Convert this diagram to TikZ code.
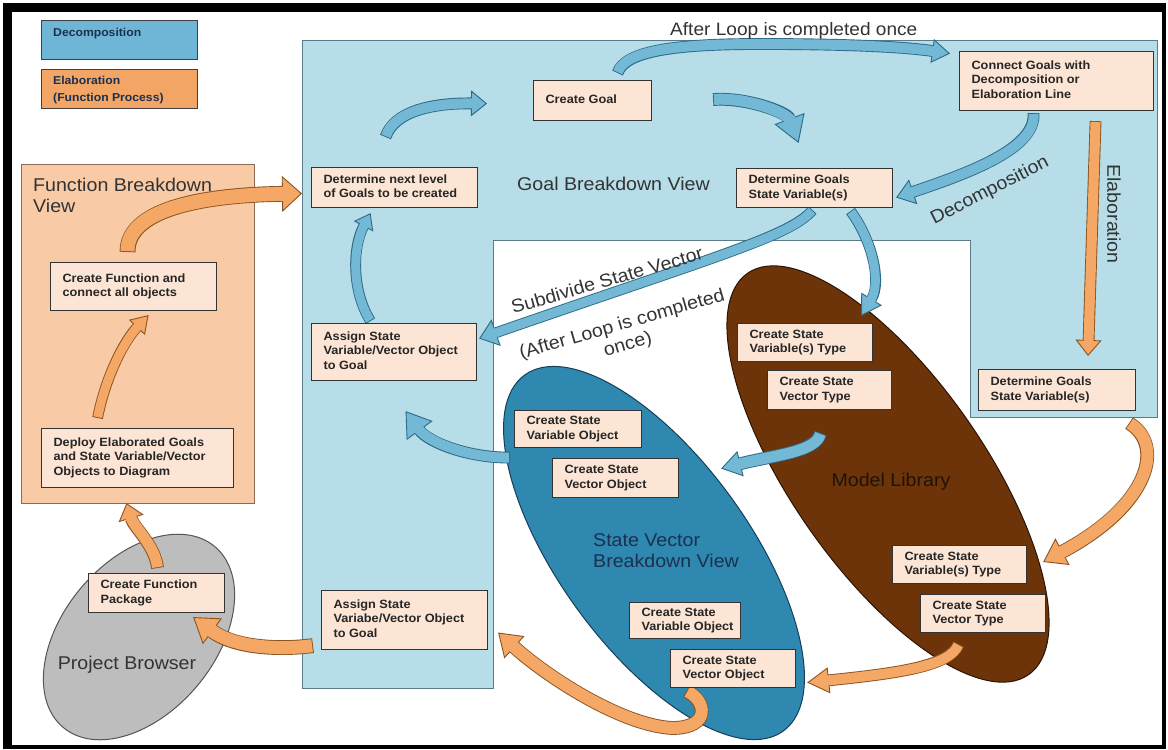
\documentclass[tikz,border=0pt]{standalone}
\usepackage{fontspec}
\setmainfont{Liberation Sans}[FakeStretch=1.06]
\usetikzlibrary{arrows.meta,shapes.geometric}
\definecolor{regblue}{HTML}{B7DDE8}
\definecolor{regedge}{HTML}{5A7C8A}
\definecolor{bfill}{HTML}{73B9D6}
\definecolor{bedge}{HTML}{2C6A86}
\definecolor{ofill}{HTML}{F5A766}
\definecolor{oedge}{HTML}{8A5420}
\definecolor{panelc}{HTML}{F9CAA6}
\definecolor{paneledge}{HTML}{8C6A55}
\definecolor{boxfill}{HTML}{FCE5D5}
\definecolor{boxedge}{HTML}{333333}
\definecolor{svblue}{HTML}{2E88B0}
\definecolor{svedge}{HTML}{173E58}
\definecolor{brownc}{HTML}{6E3409}
\definecolor{brownedge}{HTML}{2A1303}
\definecolor{grayc}{HTML}{BDBDBD}
\definecolor{grayedge}{HTML}{555555}
\definecolor{legblue}{HTML}{6FB6D6}
\definecolor{legorange}{HTML}{F2A564}
\definecolor{labgray}{HTML}{333333}
\definecolor{navy}{HTML}{1C3050}
\pgfdeclarelayer{bg}
\pgfdeclarelayer{arr}
\pgfsetlayers{bg,arr,main}
\tikzset{
  box/.style={draw=boxedge, line width=1.1pt, fill=boxfill, inner xsep=12pt, inner ysep=2pt,
    font=\fontsize{12}{14.5}\selectfont\bfseries, text=black!85, anchor=north west},
  biglab/.style={font=\fontsize{18.5}{21}\selectfont, text=labgray, inner sep=0pt},
  legbox/.style={draw=black!75, line width=1pt, minimum width=156pt, minimum height=39pt, anchor=north west, inner sep=0pt},
  legtxt/.style={font=\fontsize{11.5}{16.5}\selectfont\bfseries, text=navy, inner sep=0pt, anchor=north west, align=left}
}
\newcommand\bx[6]{\node[box, minimum height=#5pt] (#1) at (#2,#3)
  {\makebox[\dimexpr#4pt-24pt\relax][l]{\begin{tabular}{@{}l@{}}#6\end{tabular}}};}
\newcommand\barr[6]{%
  \pgfmathsetmacro\bwo{#3+1.8}\pgfmathsetmacro\bsh{#4-2}%
  \draw[#2, line width=\bwo pt, -{Triangle[length=#4pt, width=#5pt, fill=#1, color=#2, line width=0.9pt]}] #6;
  \draw[#1, line width=#3pt, shorten >=\bsh pt, shorten <=0.9pt] #6;}
\begin{document}
\begin{tikzpicture}[x=1pt,y=-1pt]
\useasboundingbox (0,0) rectangle (1168,750);
\begin{pgfonlayer}{bg}
  \fill[black] (3,3) rectangle (1166,749);
  \fill[white] (12,12) rectangle (1162,745);
  % goal breakdown region
  \draw[regedge, line width=1pt, fill=regblue] (302,40) -- (1157,40) -- (1157,417) -- (970,417)
     -- (970,240) -- (493,240) -- (493,688) -- (302,688) -- cycle;
  % function breakdown panel
  \draw[paneledge, line width=0.8pt, fill=panelc] (21,164) rectangle (254,503);
\end{pgfonlayer}
% ellipses
\begin{pgfonlayer}{bg}
  \node[ellipse, draw=grayedge, line width=1pt, fill=grayc, minimum width=236pt, minimum height=152pt, inner sep=0pt, rotate=50] (pb) at (139,637) {};
  \node[ellipse, draw=svedge, line width=1pt, fill=svblue, minimum width=440pt, minimum height=190pt, inner sep=0pt, rotate=-54] (svbv) at (654,553) {};
  \node[ellipse, draw=brownedge, line width=1pt, fill=brownc, minimum width=490pt, minimum height=192pt, inner sep=0pt, rotate=-55] (ml) at (888,474) {};
\end{pgfonlayer}
% legend
\node[legbox, fill=legblue] (legdec) at (41,20) {};
\node[legtxt] (legdect) at (53,28) {Decomposition};
\node[legbox, fill=legorange] (legela) at (41,69) {};
\node[legtxt] (legelat) at (53,76) {Elaboration\\(Function Process)};
% boxes
\bx{goal}{533}{80}{118}{40}{Create Goal}
\bx{next}{311}{167}{166}{40}{Determine next level\\of Goals to be created}
\bx{connect}{959}{51}{194}{59}{Connect Goals with\\Decomposition or\\Elaboration Line}
\bx{dgsv1}{736}{168}{156}{39}{Determine Goals\\State Variable(s)}
\bx{dgsv2}{978}{369}{157}{41}{Determine Goals\\State Variable(s)}
\bx{csvt1}{737}{323}{135}{38}{Create State\\Variable(s) Type}
\bx{csvect1}{767}{370}{124}{39}{Create State\\Vector Type}
\bx{cfunc}{50}{262}{166}{48}{Create Function and\\connect all objects}
\bx{deploy}{41}{428}{192}{59}{Deploy Elaborated Goals\\and State Variable/Vector\\Objects to Diagram}
\bx{assign1}{311}{323}{165}{57}{Assign State\\Variable/Vector Object\\to Goal}
\bx{csvo1}{514}{410}{127}{37}{Create State\\Variable Object}
\bx{csvecto1}{552}{458}{126}{39}{Create State\\Vector Object}
\bx{cfp}{88}{573}{136}{39}{Create Function\\Package}
\bx{assign2}{321}{590}{166}{59}{Assign State\\Variabe/Vector Object\\to Goal}
\bx{csvo2}{629}{602}{111}{36}{Create State\\Variable Object}
\bx{csvecto2}{670}{649}{125}{38}{Create State\\Vector Object}
\bx{csvt2}{892}{545}{134}{38}{Create State\\Variable(s) Type}
\bx{csvect2}{920}{594}{125}{38}{Create State\\Vector Type}
% big labels
\node[biglab, anchor=north west, align=left] (fbvlab) at (33,178) {Function Breakdown\\View};
\node[biglab, anchor=base west] (gbvlab) at (517,190) {Goal Breakdown View};
\node[biglab, anchor=base west, font=\fontsize{18}{21}\selectfont] (afterlab) at (670,35) {After Loop is completed once};
\node[biglab, rotate=27] (decomplab) at (990,191) {Decomposition};
\node[biglab, rotate=-90] (elablab) at (1114,214) {Elaboration};
\node[biglab, rotate=16] (subdivlab) at (607,280) {Subdivide State Vector};
\node[biglab, rotate=16, align=center] (afterlab2) at (625,335) {(After Loop is completed\\once)};
\node[biglab, anchor=north west, align=left, text=navy] (svbvlab) at (593,533) {State Vector\\Breakdown View};
\node[biglab, text=black!85!brown] (mllab) at (891,482) {Model Library};
\node[biglab] (pblab) at (127,665) {Project Browser};
% arrows
\begin{pgfonlayer}{arr}
% blue
\barr{bfill}{bedge}{10}{16}{26}{([shift={(-9,-30)}]next.north) .. controls (394,112) and (430,103) .. ([shift={(-46,3)}]goal.west)}
\barr{bfill}{bedge}{11}{26}{32}{([shift={(61,-1)}]goal.east) .. controls (745,97) and (787,112) .. ([shift={(-16,-25)}]dgsv1.north)}
\barr{bfill}{bedge}{10}{18}{24}{([shift={(25,-7)}]goal.north) .. controls (625,50) and (680,44) .. (760,44) .. controls (850,44) and (905,47) .. ([shift={(-9,-27.5)}]connect.west)}
\barr{bfill}{bedge}{10}{18}{26}{([shift={(-23,2)}]connect.south) .. controls (1036,148) and (972,172) .. ([shift={(3,9.5)}]dgsv1.east)}
\barr{bfill}{bedge}{9}{18}{28}{([shift={(-2,2)}]dgsv1.south) .. controls (790,236) and (720,255) .. ([shift={(2,-13.5)}]assign1.east)}
\barr{bfill}{bedge}{9}{20}{24}{([shift={(36,3)}]dgsv1.south) .. controls (872,240) and (882,282) .. ([shift={(-12,-7)}]csvt1.north east)}
\barr{bfill}{bedge}{11}{20}{26}{([shift={(-9,23)}]csvect1.south) .. controls (816,452) and (775,455) .. ([shift={(42,-9.5)}]csvecto1.east)}
\barr{bfill}{bedge}{10}{24}{32}{([shift={(-4,28.5)}]csvo1.west) .. controls (468,458) and (428,442) .. ([shift={(11.5,30)}]assign1.south)}
\barr{bfill}{bedge}{9}{15}{22}{([shift={(-23.5,-2)}]assign1.north) .. controls (352,292) and (352,248) .. ([shift={(-24,5)}]next.south)}
% orange
\barr{ofill}{oedge}{14}{20}{36}{([shift={(-6,-10)}]cfunc.north) .. controls (127,210) and (200,195) .. ([shift={(-9,6)}]next.west)}
\barr{ofill}{oedge}{9}{17}{22}{([shift={(-40,-10)}]deploy.north) .. controls (106,375) and (125,340) .. ([shift={(15,4)}]cfunc.south)}
\barr{ofill}{oedge}{11}{16}{26}{([shift={(1,-5)}]cfp.north) .. controls (155,545) and (134,528) .. ([shift={(-11,15)}]deploy.south)}
\barr{ofill}{oedge}{13}{24}{32}{([shift={(-8,25.5)}]assign2.west) .. controls (280,650) and (235,648) .. ([shift={(-32,4)}]cfp.south east)}
\barr{ofill}{oedge}{12}{22}{30}{([shift={(-46.5,3)}]csvecto2.south) .. controls (706,700) and (712,728) .. (672,728) .. controls (620,725) and (545,675) .. ([shift={(10,12.5)}]assign2.east)}
\barr{ofill}{oedge}{10}{22}{26}{([shift={(-24.5,11)}]csvect2.south) .. controls (950,666) and (900,673) .. ([shift={(11,14)}]csvecto2.east)}
\barr{ofill}{oedge}{12}{22}{30}{([shift={(-7,12)}]dgsv2.south east) .. controls (1165,445) and (1150,505) .. ([shift={(16,17)}]csvt2.north east)}
\barr{ofill}{oedge}{10}{16}{26}{([shift={(39,10)}]connect.south) -- ([shift={(31,-13)}]dgsv2.north)}
\end{pgfonlayer}
\end{tikzpicture}
\end{document}
